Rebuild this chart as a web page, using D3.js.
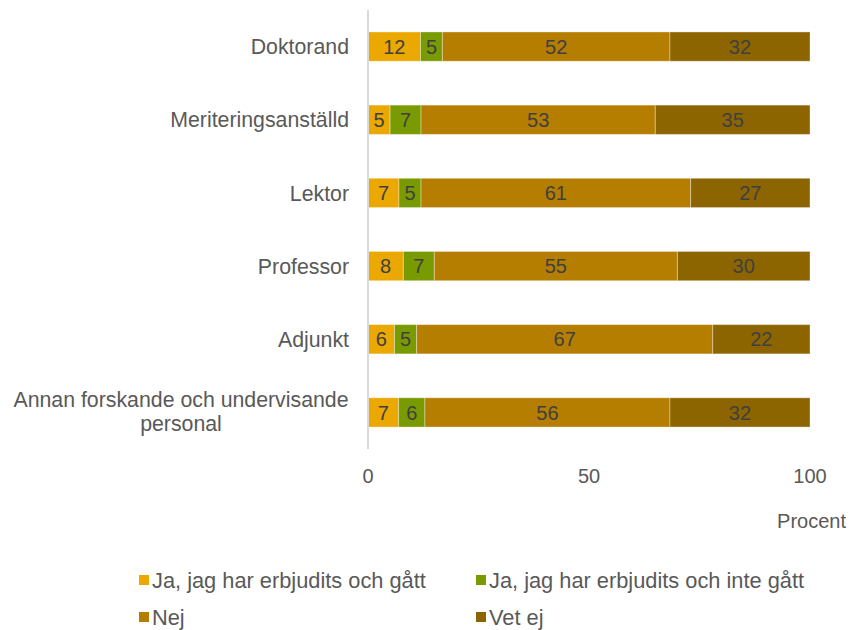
<!DOCTYPE html>
<html>
<head>
<meta charset="utf-8">
<script src="https://cdn.jsdelivr.net/npm/d3@7"></script>
<style>
  body { margin: 0; background: #fff; }
  text { font-family: "Liberation Sans", Arial, sans-serif; }
</style>
</head>
<body>
<div id="chart"></div>
<script>
const categories = ["Doktorand", "Meriteringsanställd", "Lektor", "Professor", "Adjunkt", "Annan forskande och undervisande personal"];
const seriesNames = ["Ja, jag har erbjudits och gått", "Ja, jag har erbjudits och inte gått", "Nej", "Vet ej"];
const jaGatt = [12, 5, 7, 8, 6, 7];
const jaInteGatt = [5, 7, 5, 7, 5, 6];
const nej = [52, 53, 61, 55, 67, 56];
const vetEj = [32, 35, 27, 30, 22, 32];
const xTicks = [0, 50, 100];
const colors = ["#EAA800", "#7A9A01", "#B57E00", "#8C6400"];

const W = 859, H = 630;
const x0 = 368, x1 = 810, yTop = 10, yBot = 449;

const svg = d3.select("#chart").append("svg")
    .attr("width", W)
    .attr("height", H);

const xScale = d3.scaleLinear().domain([0, 100]).range([x0, x1]);
const yScale = d3.scaleBand().domain(categories).range([yTop, yBot]).paddingInner(0.6).paddingOuter(0.3);

// rounded labels sum to 100-101, so bars are drawn as shares of the row total
const rows = categories.map((c, i) => {
    const vals = [jaGatt[i], jaInteGatt[i], nej[i], vetEj[i]];
    const tot = d3.sum(vals);
    return {cat: c, labels: vals, s0: vals[0] / tot * 100, s1: vals[1] / tot * 100, s2: vals[2] / tot * 100, s3: vals[3] / tot * 100};
});
const stack = d3.stack().keys(["s0", "s1", "s2", "s3"]);
const layers = stack(rows);

const g = svg.selectAll(".layer")
    .data(layers)
  .enter().append("g")
    .attr("class", "layer")
    .attr("fill", (d, i) => colors[i]);

g.selectAll("rect")
    .data(d => d)
  .enter().append("rect")
    .attr("x", d => xScale(d[0]))
    .attr("y", d => yScale(d.data.cat))
    .attr("width", d => xScale(d[1]) - xScale(d[0]))
    .attr("height", yScale.bandwidth())
    .attr("stroke", "#ffffff")
    .attr("stroke-opacity", 0.35)
    .attr("stroke-width", 1);

g.each(function(layer, li) {
    d3.select(this).selectAll("text")
        .data(layer)
      .enter().append("text")
        .attr("x", d => (xScale(d[0]) + xScale(d[1])) / 2)
        .attr("y", d => yScale(d.data.cat) + yScale.bandwidth() / 2)
        .attr("dy", "0.36em")
        .attr("text-anchor", "middle")
        .attr("font-size", 20)
        .attr("fill", "#404040")
        .text(d => d.data.labels[li]);
});

// vertical axis line
svg.append("line")
    .attr("x1", x0).attr("x2", x0)
    .attr("y1", yTop).attr("y2", yBot)
    .attr("stroke", "#d9d9d9")
    .attr("stroke-width", 2);

// category labels
categories.forEach(c => {
    const cy = yScale(c) + yScale.bandwidth() / 2;
    const t = svg.append("text")
        .attr("text-anchor", "middle")
        .attr("font-size", 21.3)
        .attr("fill", "#595959");
    if (c.length > 30) {
        t.append("tspan").attr("x", 181).attr("y", cy - 5).text("Annan forskande och undervisande");
        t.append("tspan").attr("x", 181).attr("y", cy + 19).text("personal");
    } else {
        t.attr("x", 349).attr("y", cy).attr("dy", "0.36em")
         .attr("text-anchor", "end").text(c);
    }
});

// x ticks
svg.selectAll(".xtick")
    .data(xTicks)
  .enter().append("text")
    .attr("class", "xtick")
    .attr("x", d => xScale(d))
    .attr("y", 483)
    .attr("text-anchor", "middle")
    .attr("font-size", 20)
    .attr("fill", "#595959")
    .text(d => d);

svg.append("text")
    .attr("x", 846)
    .attr("y", 528)
    .attr("text-anchor", "end")
    .attr("font-size", 20)
    .attr("fill", "#595959")
    .text("Procent");

// legend
const legendPos = [[139, 580], [476, 580], [139, 617], [476, 617]];
seriesNames.forEach((name, i) => {
    const [lx, ly] = legendPos[i];
    svg.append("rect")
        .attr("x", lx).attr("y", ly - 5)
        .attr("width", 10).attr("height", 10)
        .attr("fill", colors[i]);
    svg.append("text")
        .attr("x", lx + 13)
        .attr("y", ly)
        .attr("dy", "0.36em")
        .attr("font-size", 21.8)
        .attr("fill", "#595959")
        .text(name);
});
</script>
</body>
</html>
